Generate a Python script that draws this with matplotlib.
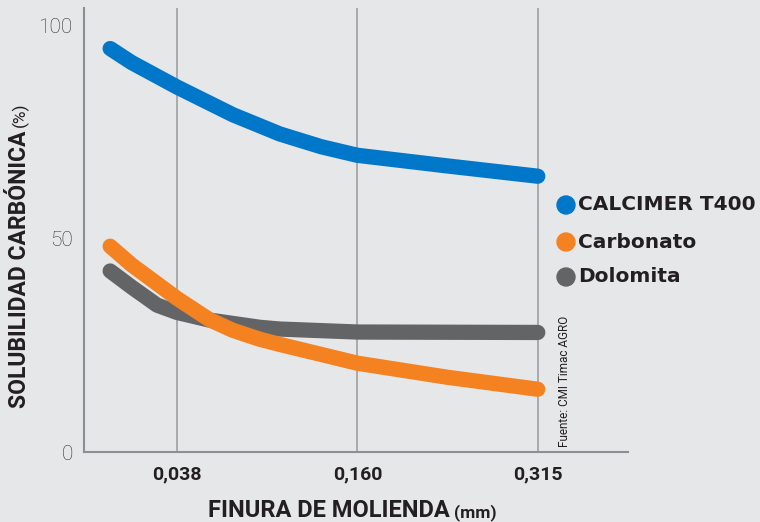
import matplotlib as mpl
import matplotlib.pyplot as plt

mpl.rcParams["font.family"] = ["Roboto", "DejaVu Sans"]

# grinding fineness categories (mm)
categories = ["0,038", "0,160", "0,315"]

# sample positions along the x axis, in category units (0 = 0,038 ... 2 = 0,315)
calcimer_x = [-0.37, -0.25, 0.0, 0.31, 0.57, 0.8, 1.0, 1.5, 2.0]
calcimer_y = [94.5, 91.2, 85.5, 79.0, 74.5, 71.5, 69.5, 67.0, 64.6]

carbonato_x = [-0.37, -0.25, 0.0, 0.18, 0.31, 0.46, 0.57, 1.0, 1.5, 2.0]
carbonato_y = [48.2, 43.8, 36.0, 31.0, 28.5, 26.4, 25.2, 20.8, 17.5, 14.7]

dolomita_x = [-0.37, -0.25, -0.11, 0.0, 0.18, 0.46, 0.57, 1.0, 2.0]
dolomita_y = [42.4, 38.6, 34.4, 32.7, 30.9, 29.2, 28.8, 28.1, 28.0]

series = ["CALCIMER T400", "Carbonato", "Dolomita"]
colors = ["#0077c8", "#f58220", "#636466"]

BG = "#e6e7e9"
TEXT = "#231f20"
LINE_WIDTH = 11

fig = plt.figure(figsize=(7.6, 5.22), dpi=100, facecolor=BG)
ax = fig.add_axes([84 / 760, 1 - 452 / 522, (628 - 84) / 760, (452 - 8) / 522])
ax.set_facecolor(BG)

for xs, ys, color in zip(
    [dolomita_x, carbonato_x, calcimer_x],
    [dolomita_y, carbonato_y, calcimer_y],
    [colors[2], colors[1], colors[0]],
):
    ax.plot(xs, ys, color=color, linewidth=LINE_WIDTH,
            solid_capstyle="round", solid_joinstyle="round", zorder=3)

ax.set_xlim(-0.515, 2.5)
ax.set_ylim(0, 104)

ax.set_xticks(range(len(categories)))
ax.set_xticklabels(categories, fontsize=14, fontweight="bold", color=TEXT)
ax.set_yticks([0, 50, 100])
ax.set_yticklabels(["0", "50", "100"], fontsize=15, fontweight="light", color="#333333")
ax.tick_params(axis="both", length=0)
ax.tick_params(axis="x", pad=10)
ax.tick_params(axis="y", pad=8)

ax.grid(axis="x", color="#9d9fa2", linewidth=1.2, zorder=1)
for side in ["top", "right"]:
    ax.spines[side].set_visible(False)
for side in ["left", "bottom"]:
    ax.spines[side].set_color("#8c8e91")
    ax.spines[side].set_linewidth(1.5)

# axis titles: bold main part followed by the unit in a lighter style
ylab = fig.text(20 / 760, 1 - 408 / 522, "SOLUBILIDAD CARBÓNICA", rotation=90,
                fontsize=16.5, fontweight="bold", color=TEXT, ha="center", va="bottom")
xlab = fig.text(208 / 760, 1 - 517 / 522, "FINURA DE MOLIENDA", fontsize=17,
                fontweight="bold", color=TEXT, ha="left", va="baseline")
fig.canvas.draw()
inv = fig.transFigure.inverted()
yb = ylab.get_window_extent()
xb = xlab.get_window_extent()
fig.text(20 / 760, inv.transform((0, yb.y1 + 4))[1], "(%)", rotation=90,
         fontsize=12.5, color=TEXT, ha="center", va="bottom")
fig.text(inv.transform((xb.x1 + 4, 0))[0], 1 - 517 / 522, "(mm)", fontsize=12.5,
         fontweight="bold", color=TEXT, ha="left", va="baseline")

# legend
legend_y = [205, 242, 277]
for name, color, py in zip(series, colors, legend_y):
    fig.patches.append(mpl.patches.Ellipse((566 / 760, 1 - py / 522), 18 / 760, 18 / 522,
                                           transform=fig.transFigure, color=color))
    fig.text(578 / 760, 1 - py / 522, name, fontsize=14.5, fontweight="bold",
             family="DejaVu Sans", color=TEXT, ha="left", va="center")

fig.text(565 / 760, 1 - 447 / 522, "Fuente: CMI Timac AGRO", rotation=90,
         fontsize=8.5, color=TEXT, ha="center", va="bottom")

fig.savefig("out.png", dpi=100, facecolor=BG)
